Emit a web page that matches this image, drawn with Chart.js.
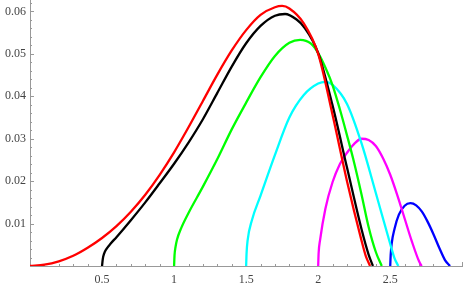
<!DOCTYPE html>
<html><head><meta charset="utf-8">
<script src="https://cdn.jsdelivr.net/npm/chart.js@4"></script>
<style>html,body{margin:0;padding:0;background:#fff}#wrap{width:463px;height:286px;position:relative}</style>
</head><body><div id="wrap"><canvas id="c"></canvas></div>
<script>
const xTickLabels = [0.5, 1, 1.5, 2, 2.5];
const yTickLabels = [0.01, 0.02, 0.03, 0.04, 0.05, 0.06];

const redX = [0, 0.1, 0.2, 0.3, 0.4, 0.5, 0.6, 0.7, 0.8, 0.9, 1.0, 1.1, 1.2, 1.3, 1.4, 1.5, 1.6, 1.7, 1.75, 1.8, 1.9, 2.0, 2.1, 2.2, 2.3, 2.33, 2.36];
const redY = [0, 0.0003, 0.0011, 0.0024, 0.0043, 0.0066, 0.0094, 0.0128, 0.0168, 0.0215, 0.0268, 0.0327, 0.0389, 0.0451, 0.0508, 0.0556, 0.0592, 0.0610, 0.0613, 0.0607, 0.0572, 0.0500, 0.0356, 0.0200, 0.0061, 0.0024, 0];

const blackX = [0.5, 0.505, 0.515, 0.53, 0.56, 0.6, 0.7, 0.8, 0.9, 1.0, 1.1, 1.2, 1.3, 1.4, 1.5, 1.6, 1.7, 1.77, 1.85, 1.9, 2.0, 2.1, 2.2, 2.3, 2.35, 2.38];
const blackY = [0, 0.0016, 0.0030, 0.0040, 0.0053, 0.0068, 0.0108, 0.0150, 0.0195, 0.0241, 0.0291, 0.0346, 0.0408, 0.0470, 0.0525, 0.0566, 0.0590, 0.0594, 0.0581, 0.0564, 0.0502, 0.0378, 0.0232, 0.0088, 0.0027, 0];

const greenX = [1.0, 1.003, 1.01, 1.02, 1.05, 1.1, 1.2, 1.3, 1.4, 1.5, 1.6, 1.7, 1.8, 1.875, 1.95, 2.0, 2.05, 2.1, 2.15, 2.2, 2.25, 2.3, 2.35, 2.4, 2.441];
const greenY = [0, 0.0025, 0.0045, 0.0062, 0.0090, 0.0125, 0.0187, 0.0252, 0.0322, 0.0385, 0.0445, 0.0495, 0.0526, 0.0533, 0.0524, 0.0502, 0.0468, 0.0426, 0.0370, 0.0308, 0.0243, 0.0170, 0.0092, 0.0033, 0];

const cyanX = [1.5, 1.503, 1.51, 1.54, 1.6, 1.7, 1.8, 1.9, 2.0, 2.05, 2.1, 2.2, 2.3, 2.4, 2.5, 2.53, 2.556];
const cyanY = [0, 0.0030, 0.0060, 0.0108, 0.0166, 0.0262, 0.0350, 0.0403, 0.0430, 0.0434, 0.0427, 0.0382, 0.0290, 0.0172, 0.0052, 0.0018, 0];

const magentaX = [2.0, 2.003, 2.013, 2.05, 2.1, 2.15, 2.2, 2.25, 2.3, 2.35, 2.4, 2.45, 2.5, 2.55, 2.6, 2.65, 2.7, 2.718];
const magentaY = [0, 0.0030, 0.0061, 0.0135, 0.0198, 0.0240, 0.0267, 0.0288, 0.0300, 0.0297, 0.0283, 0.0254, 0.0215, 0.0166, 0.0112, 0.0058, 0.0011, 0];

const blueX = [2.5, 2.503, 2.51, 2.53, 2.56, 2.6, 2.64, 2.68, 2.72, 2.76, 2.8, 2.84, 2.88, 2.915];
const blueY = [0, 0.0025, 0.0053, 0.0088, 0.0121, 0.0142, 0.0148, 0.0143, 0.0128, 0.0104, 0.0075, 0.0043, 0.0014, 0];

const series = [
  { xs: redX, ys: redY, color: '#ff0000' },
  { xs: blackX, ys: blackY, color: '#000000' },
  { xs: greenX, ys: greenY, color: '#00ff00' },
  { xs: cyanX, ys: cyanY, color: '#00ffff' },
  { xs: magentaX, ys: magentaY, color: '#ff00ff' },
  { xs: blueX, ys: blueY, color: '#0000ff' }
];

const axisColor = '#999999';
const labelColor = '#444444';
const labelFont = { family: "'Liberation Serif', 'DejaVu Serif', serif", size: 12 };

const innerTicks = {
  id: 'innerTicks',
  beforeDatasetsDraw(chart) {
    const { ctx, scales: { x, y } } = chart;
    ctx.save();
    ctx.strokeStyle = axisColor;
    ctx.lineWidth = 1;
    const y0 = y.getPixelForValue(0);
    const x0 = x.getPixelForValue(0);
    for (let i = 1; i <= 30; i++) {
      const v = i / 10;
      const px = Math.round(x.getPixelForValue(v)) + 0.5;
      const len = (i % 5 === 0) ? 4 : 2;
      ctx.beginPath(); ctx.moveTo(px, y0); ctx.lineTo(px, y0 - len); ctx.stroke();
    }
    for (let i = 1; i <= 31; i++) {
      const v = i * 0.002;
      const py = Math.round(y.getPixelForValue(v)) + 0.5;
      const len = (i % 5 === 0) ? 4 : 2;
      ctx.beginPath(); ctx.moveTo(x0, py); ctx.lineTo(x0 + len, py); ctx.stroke();
    }
    ctx.restore();
  }
};

new Chart(document.getElementById('c'), {
  type: 'scatter',
  data: {
    datasets: series.map(s => ({
      data: s.xs.map((xv, i) => ({ x: xv, y: s.ys[i] })),
      showLine: true,
      borderColor: s.color,
      backgroundColor: s.color,
      borderWidth: 2.3,
      pointRadius: 0,
      cubicInterpolationMode: 'monotone',
      fill: false
    }))
  },
  options: {
    responsive: true,
    maintainAspectRatio: false,
    devicePixelRatio: 1,
    animation: false,
    layout: { padding: 0 },
    plugins: { legend: { display: false }, tooltip: { enabled: false } },
    scales: {
      x: {
        type: 'linear', min: 0, max: 3.005,
        afterBuildTicks: s => { s.ticks = xTickLabels.map(v => ({ value: v })); },
        afterFit: s => { s.height = 20; s.paddingLeft = 0; s.paddingRight = 0; },
        ticks: { callback: v => String(v), font: labelFont, color: labelColor, padding: 7, autoSkip: false, maxRotation: 0 },
        grid: { display: false, drawTicks: false },
        border: { color: axisColor, width: 1 }
      },
      y: {
        type: 'linear', min: 0, max: 0.0627,
        afterBuildTicks: s => { s.ticks = yTickLabels.map(v => ({ value: v })); },
        afterFit: s => { s.width = 30; s.paddingTop = 0; s.paddingBottom = 0; },
        ticks: { callback: v => String(v), font: labelFont, color: labelColor, padding: 4, autoSkip: false },
        grid: { display: false, drawTicks: false },
        border: { color: axisColor, width: 1 }
      }
    }
  },
  plugins: [innerTicks]
});
</script>
</body></html>
